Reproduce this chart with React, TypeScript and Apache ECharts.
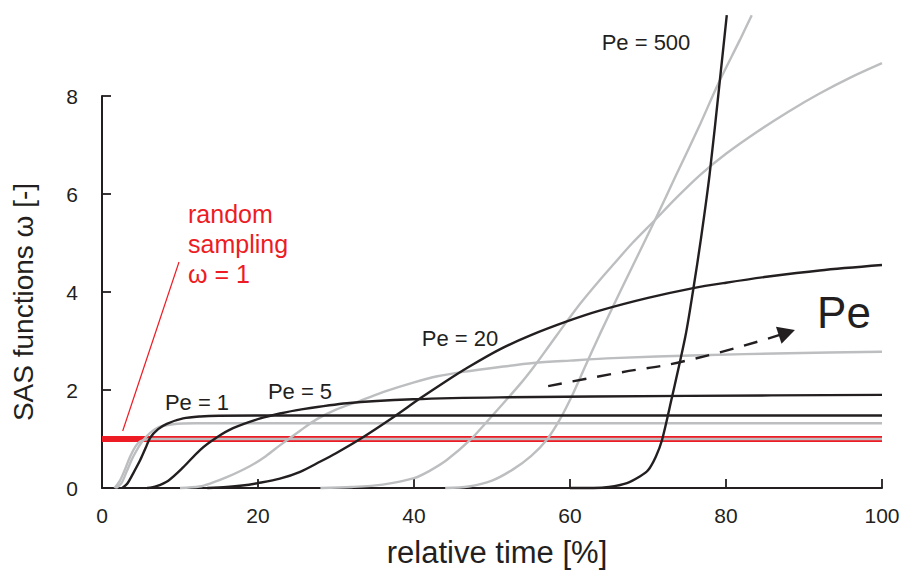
import React, { useEffect, useRef } from "react";
import * as echarts from "echarts";

// ---- data ----
const X_TICKS = [0, 20, 40, 60, 80, 100];
const Y_TICKS = [0, 2, 4, 6, 8];

const randomSampling = [[0, 1], [100, 1]];

const greyA = [[1.6, 0], [2.3, 0.15], [3, 0.4], [3.6, 0.64], [4.3, 0.85], [4.9, 0.95], [6.2, 1.0], [100, 1.0]];
const greyB = [[1.8, 0], [2.5, 0.1], [3.2, 0.35], [4, 0.64], [5.3, 0.98], [7, 1.22], [9.1, 1.3], [12, 1.32], [100, 1.32]];
const greyC = [[10, 0], [12.5, 0.03], [14, 0.1], [16, 0.22], [19, 0.45], [21, 0.65], [22.8, 0.87], [25.4, 1.17], [27.5, 1.4], [30, 1.6], [33.1, 1.78], [36.5, 1.98], [39.9, 2.15], [43, 2.28], [46.3, 2.37], [51, 2.47], [55.3, 2.55], [60, 2.6], [65.5, 2.65], [76.7, 2.71], [88, 2.75], [100, 2.78]];
const greyD = [[28, 0], [32, 0.02], [36, 0.07], [40, 0.2], [42, 0.35], [44.2, 0.57], [47.2, 0.98], [50, 1.47], [53.6, 2.12], [55.3, 2.46], [57.5, 2.94], [59.6, 3.4], [61.5, 3.8], [63.8, 4.24], [65.5, 4.55], [68, 5.0], [70.9, 5.47], [73.5, 5.9], [76.7, 6.39], [80, 6.82], [84, 7.27], [88, 7.68], [92, 8.05], [96, 8.38], [100, 8.67]];
const greyE = [[44, 0], [47, 0.03], [50, 0.15], [52.7, 0.38], [55, 0.65], [57, 0.98], [58.7, 1.4], [60.4, 1.93], [62, 2.5], [63.8, 3.13], [65.5, 3.7], [68, 4.52], [70.9, 5.47], [73.5, 6.35], [76.7, 7.43], [79, 8.25], [81.8, 9.15], [83.3, 9.65]];

const pe1 = [[2.6, 0], [3.2, 0.08], [4, 0.3], [4.9, 0.57], [5.6, 0.82], [6.2, 1.03], [7.2, 1.2], [8.3, 1.31], [10.4, 1.42], [12.6, 1.46], [15, 1.475], [25, 1.48], [100, 1.48]];
const pe5 = [[5.8, 0], [7, 0.04], [8.5, 0.15], [10.4, 0.42], [12.6, 0.78], [14.7, 1.03], [16.8, 1.22], [20.3, 1.42], [22.8, 1.52], [25.4, 1.6], [31.4, 1.73], [39.9, 1.81], [51, 1.85], [75, 1.88], [100, 1.9]];
const pe20 = [[13.5, 0], [16, 0.02], [18, 0.05], [20, 0.1], [22.8, 0.19], [25.4, 0.33], [28, 0.54], [30, 0.71], [33.1, 1.0], [37.3, 1.44], [40.8, 1.83], [44, 2.17], [47, 2.47], [51, 2.83], [55, 3.12], [59.6, 3.4], [63.8, 3.62], [70, 3.88], [75.8, 4.08], [80, 4.19], [85.2, 4.31], [92, 4.44], [100, 4.55]];
const pe500 = [[60, 0], [63, 0], [65, 0.02], [67.3, 0.1], [69, 0.24], [70, 0.36], [71, 0.64], [71.8, 0.98], [73, 1.8], [74.8, 3.1], [75.8, 4.05], [76.8, 5.1], [77.9, 6.4], [79.2, 8.3], [80.1, 9.65]];

const peTrend = [[57.2, 2.08], [65.5, 2.33], [75.5, 2.62], [87.8, 3.17]];

const CURVE_LABELS = ["Pe = 1", "Pe = 5", "Pe = 20", "Pe = 500"];
const RANDOM_LABEL = ["random", "sampling", "ω = 1"];
const X_NAME = "relative time [%]";
const Y_NAME = "SAS functions ω [-]";

// ---- styles ----
const FONT = '"Liberation Sans", Arial, Helvetica, sans-serif';
const INK = "#231f20";
const GREY = "#bcbec0";
const RED = "#ed1c24";

function curve(name: string, data: number[][], color: string, width = 2.4) {
  return {
    name,
    type: "line",
    data,
    smooth: 0.3,
    symbol: "none",
    showSymbol: false,
    clip: false,
    silent: true,
    lineStyle: { color, width },
  };
}

export default function App() {
  const ref = useRef<HTMLDivElement>(null);

  useEffect(() => {
    if (!ref.current) return;
    const chart = echarts.init(ref.current, undefined, { renderer: "svg" });

    const txt = (text: string, x: number, y: number, size: number, color = INK, align = "center", extra: any = {}) => ({
      type: "text",
      x,
      y,
      silent: true,
      ...extra,
      style: {
        text,
        fill: color,
        fontSize: size,
        fontFamily: FONT,
        textAlign: align,
        textVerticalAlign: "middle",
        verticalAlign: "middle",
      },
    });

    const trendData = peTrend.map((p, i) =>
      i === peTrend.length - 1
        ? { value: p, symbol: "triangle", symbolSize: [18, 17], symbolRotate: -72, itemStyle: { color: INK } }
        : { value: p, symbol: "none" }
    );

    chart.setOption({
      animation: false,
      backgroundColor: "#ffffff",
      grid: { left: 102, right: 22, top: 96, bottom: 86, containLabel: false },
      xAxis: {
        type: "value",
        min: X_TICKS[0],
        max: X_TICKS[X_TICKS.length - 1],
        interval: 20,
        axisLine: { show: true, lineStyle: { color: INK, width: 2 } },
        axisTick: { show: true, inside: true, length: 9, lineStyle: { color: INK, width: 1.8 } },
        splitLine: { show: false },
        axisLabel: { color: INK, fontSize: 21, fontFamily: FONT, margin: 17 },
      },
      yAxis: {
        type: "value",
        min: Y_TICKS[0],
        max: Y_TICKS[Y_TICKS.length - 1],
        interval: 2,
        axisLine: { show: true, lineStyle: { color: INK, width: 2 } },
        axisTick: { show: true, inside: true, length: 9, lineStyle: { color: INK, width: 1.8 } },
        splitLine: { show: false },
        axisLabel: { color: INK, fontSize: 21, fontFamily: FONT, margin: 24 },
      },
      series: [
        {
          ...curve("random sampling", randomSampling, RED, 6),
          smooth: false,
        },
        curve("grey A", greyA, GREY),
        curve("grey B", greyB, GREY),
        curve("grey C", greyC, GREY),
        curve("grey D", greyD, GREY),
        curve("grey E", greyE, GREY),
        curve("Pe = 1", pe1, INK),
        curve("Pe = 5", pe5, INK),
        curve("Pe = 20", pe20, INK),
        curve("Pe = 500", pe500, INK),
        {
          name: "Pe trend",
          type: "line",
          data: trendData,
          smooth: 0.5,
          symbol: "none",
          showSymbol: true,
          clip: false,
          silent: true,
          lineStyle: { color: INK, width: 2.4, type: [14, 11] },
          itemStyle: { color: INK },
        },
      ],
      graphic: [
        txt(CURVE_LABELS[0], 197, 402, 22),
        txt(CURVE_LABELS[1], 300, 391, 22),
        txt(CURVE_LABELS[2], 460, 338, 22),
        txt(CURVE_LABELS[3], 646, 42, 22),
        txt("Pe", 844, 312, 44),
        txt(RANDOM_LABEL[0], 188, 214, 25, RED, "left"),
        txt(RANDOM_LABEL[1], 188, 244, 25, RED, "left"),
        txt(RANDOM_LABEL[2], 188, 274, 25, RED, "left"),
        {
          type: "line",
          silent: true,
          shape: { x1: 122.7, y1: 431, x2: 179, y2: 262 },
          style: { stroke: RED, lineWidth: 1.2 },
        },
        txt(X_NAME, 497, 552, 31),
        txt(Y_NAME, 23, 302, 28, INK, "center", { rotation: Math.PI / 2 }),
      ],
    });

    return () => chart.dispose();
  }, []);

  return (
    <div
      ref={ref}
      style={{ position: "fixed", left: 0, top: 0, width: 904, height: 574, background: "#fff" }}
    />
  );
}
